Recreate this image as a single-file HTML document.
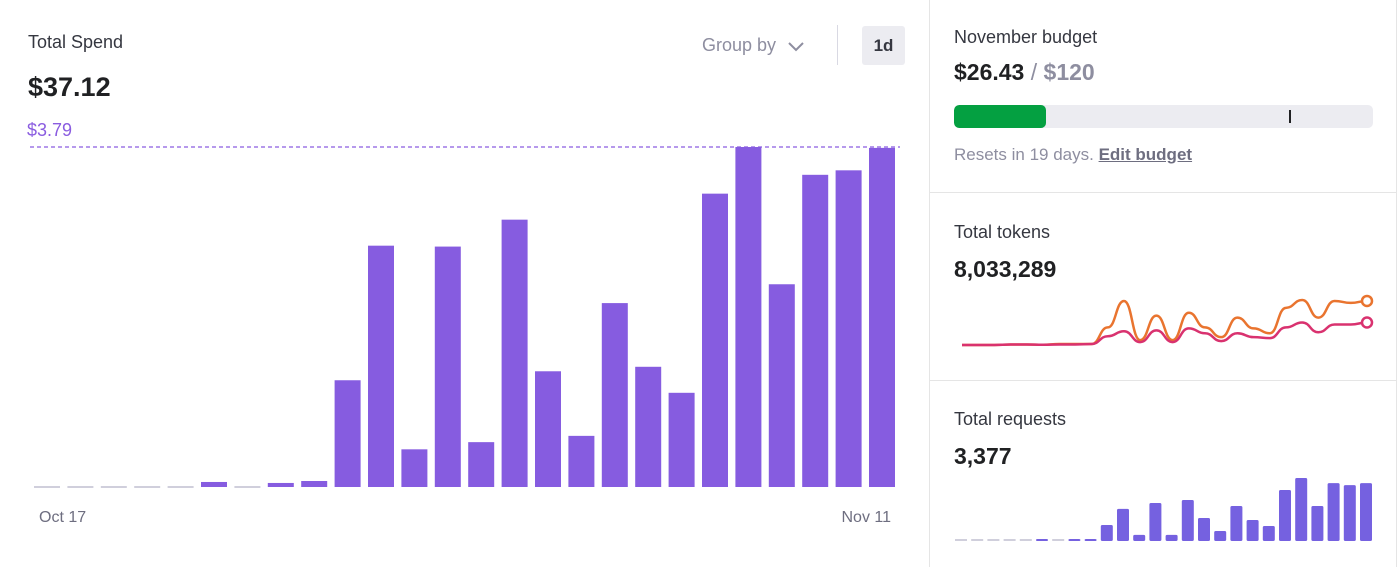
<!DOCTYPE html>
<html><head><meta charset="utf-8"><style>
body{margin:0;width:1400px;height:567px;background:#fff;font-family:"Liberation Sans",sans-serif;overflow:hidden;position:relative;color:#202123}
.abs{position:absolute}
</style></head><body>
<div class="abs" style="left:0;top:0;width:930px;height:567px">
 <div class="abs" style="left:28px;top:32px;font-size:18px;color:#353740">Total Spend</div>
 <div class="abs" style="left:28px;top:72px;font-size:27px;font-weight:bold;color:#202123">$37.12</div>
 <div class="abs" style="left:702px;top:35px;font-size:18px;color:#8e8ea0">Group by <svg width="18" height="12" style="margin-left:6px;vertical-align:middle"><path d="M2 3 L9 10 L16 3" stroke="#8e8ea0" stroke-width="2" fill="none"/></svg></div>
 <div class="abs" style="left:837px;top:25px;width:1px;height:40px;background:#d9d9e3"></div>
 <div class="abs" style="left:862px;top:26px;width:43px;height:39px;background:#ececf1;border-radius:3px;font-size:17px;font-weight:bold;line-height:39px;text-align:center;color:#353740">1d</div>
 <svg class="abs" id="spend" style="left:0;top:110px" width="930" height="457"></svg>
</div>
<div class="abs" style="left:929px;top:0;width:1px;height:567px;background:#e5e5e5"></div>
<div class="abs" style="left:1396px;top:0;width:1px;height:567px;background:#e5e5e5"></div>
<div class="abs" style="left:954px;top:27px;font-size:18px;color:#353740">November budget</div>
<div class="abs" style="left:954px;top:59px;font-size:23px;font-weight:bold;color:#202123">$26.43 <span style="font-weight:normal;color:#8e8ea0">/</span> <span style="color:#8e8ea0">$120</span></div>
<div class="abs" style="left:954px;top:105px;width:419px;height:23px;background:#ececf1;border-radius:5px;overflow:hidden">
 <div style="width:92px;height:23px;background:#04a041;border-radius:5px"></div>
 <div class="abs" style="left:335px;top:5px;width:2px;height:13px;background:#202123"></div>
</div>
<div class="abs" style="left:954px;top:145px;font-size:17px;color:#8e8ea0">Resets in 19 days. <span style="color:#6e6e80;font-weight:bold;text-decoration:underline">Edit budget</span></div>
<div class="abs" style="left:930px;top:192px;width:467px;height:1px;background:#e5e5e5"></div>
<div class="abs" style="left:954px;top:222px;font-size:18px;color:#353740">Total tokens</div>
<div class="abs" style="left:954px;top:256px;font-size:23px;font-weight:bold">8,033,289</div>
<svg class="abs" id="tok" style="left:930px;top:280px" width="467" height="80"></svg>
<div class="abs" style="left:930px;top:380px;width:467px;height:1px;background:#e5e5e5"></div>
<div class="abs" style="left:954px;top:409px;font-size:18px;color:#353740">Total requests</div>
<div class="abs" style="left:954px;top:443px;font-size:23px;font-weight:bold">3,377</div>
<svg class="abs" id="req" style="left:930px;top:460px" width="467" height="107"></svg>
<script>
const NS="http://www.w3.org/2000/svg";
const spendValues=[0,0,0,0,0,0.056,0,0.045,0.067,1.19,2.69,0.42,2.68,0.50,2.98,1.29,0.57,2.05,1.34,1.05,3.27,3.79,2.26,3.48,3.53,3.78];
const spendMax=3.79;
const maxLabel="$3.79";
const xLabels=["Oct 17","Nov 11"];
const tokensOrange=[0,0,0,0.5,0.5,0.3,1,1,1,18,45,5,30,5,33,18,8,28,17,12,38,46,28,45,43,45];
const tokensPink=[0,0,0,0.5,0.5,0.3,0.5,0.5,1,9,14,3,15,3,17,12,4,12,8,7,18,23,13,21,21,23];
const requestValues=[0,0,0,0,0,12,0,12,12,95,190,36,225,36,243,136,59,207,124,89,302,373,207,343,331,343];
function el(svg,t,a,name){const e=document.createElementNS(NS,t);for(const k in a)e.setAttribute(k,a[k]);


svg.appendChild(e);return e;}
// spend chart (svg top = 110)
const sp=document.getElementById('spend');
const sx0=34,pitch=(869-34)/25,bw=26,base=377,h=340;
const sy=v=>base-v/spendMax*h;
el(sp,'line',{x1:30,x2:900,y1:sy(spendMax),y2:sy(spendMax),stroke:'#8a5ce0','stroke-width':1.2,'stroke-dasharray':'4 3'},'max-reference-line');
const ml=el(sp,'text',{x:27,y:26,'font-size':18,fill:'#8a5ce0'},'max-value-label');ml.textContent=maxLabel;
spendValues.forEach((v,i)=>{const x=sx0+i*pitch;
 if(v===0){el(sp,'rect',{x:x,y:base-1,width:bw,height:2,fill:'#d0cfdc'},'spend-bar-empty');}
 else{el(sp,'rect',{x:x,y:sy(v),width:bw,height:base-sy(v),fill:'#865ce0'},'spend-bar');}});
const l1=el(sp,'text',{x:39,y:412,'font-size':16,fill:'#6e6e80'},'x-label-start');l1.textContent=xLabels[0];
const l2=el(sp,'text',{x:891,y:412,'font-size':16,fill:'#6e6e80','text-anchor':'end'},'x-label-end');l2.textContent=xLabels[1];
// tokens
const tk=document.getElementById('tok');
const tx=i=>32+i*(405/25), tMax=46, ty=v=>65-v/tMax*45;
function path(arr){let d='';arr.forEach((v,i)=>{const x=tx(i),y=ty(v);if(i===0)d='M'+x+' '+y;else{const px=tx(i-1),py=ty(arr[i-1]),c=(x-px)/2;d+=` C${px+c} ${py} ${x-c} ${y} ${x} ${y}`;}});return d;}
el(tk,'path',{d:path(tokensOrange),stroke:'#e9742f','stroke-width':2.5,fill:'none'},'tokens-output-line');
el(tk,'path',{d:path(tokensPink),stroke:'#d9326f','stroke-width':2.5,fill:'none'},'tokens-input-line');
el(tk,'circle',{cx:tx(25),cy:ty(tokensOrange[25]),r:5,fill:'#fff',stroke:'#e9742f','stroke-width':2.5},'tokens-output-endpoint');
el(tk,'circle',{cx:tx(25),cy:ty(tokensPink[25]),r:5,fill:'#fff',stroke:'#d9326f','stroke-width':2.5},'tokens-input-endpoint');
// requests
const rq=document.getElementById('req');
const rMax=373, rb=81, rh=63;
requestValues.forEach((v,i)=>{const x=25+i*16.2;
 if(v===0){el(rq,'rect',{x:x,y:rb-2,width:12,height:2,fill:'#d0cfdc'},'request-bar-empty');}
 else{const hh=Math.max(2,v/rMax*rh);el(rq,'rect',{x:x,y:rb-hh,width:12,height:hh,rx:1.5,fill:'#7561e0'},'request-bar');}});
</script>
</body></html>
